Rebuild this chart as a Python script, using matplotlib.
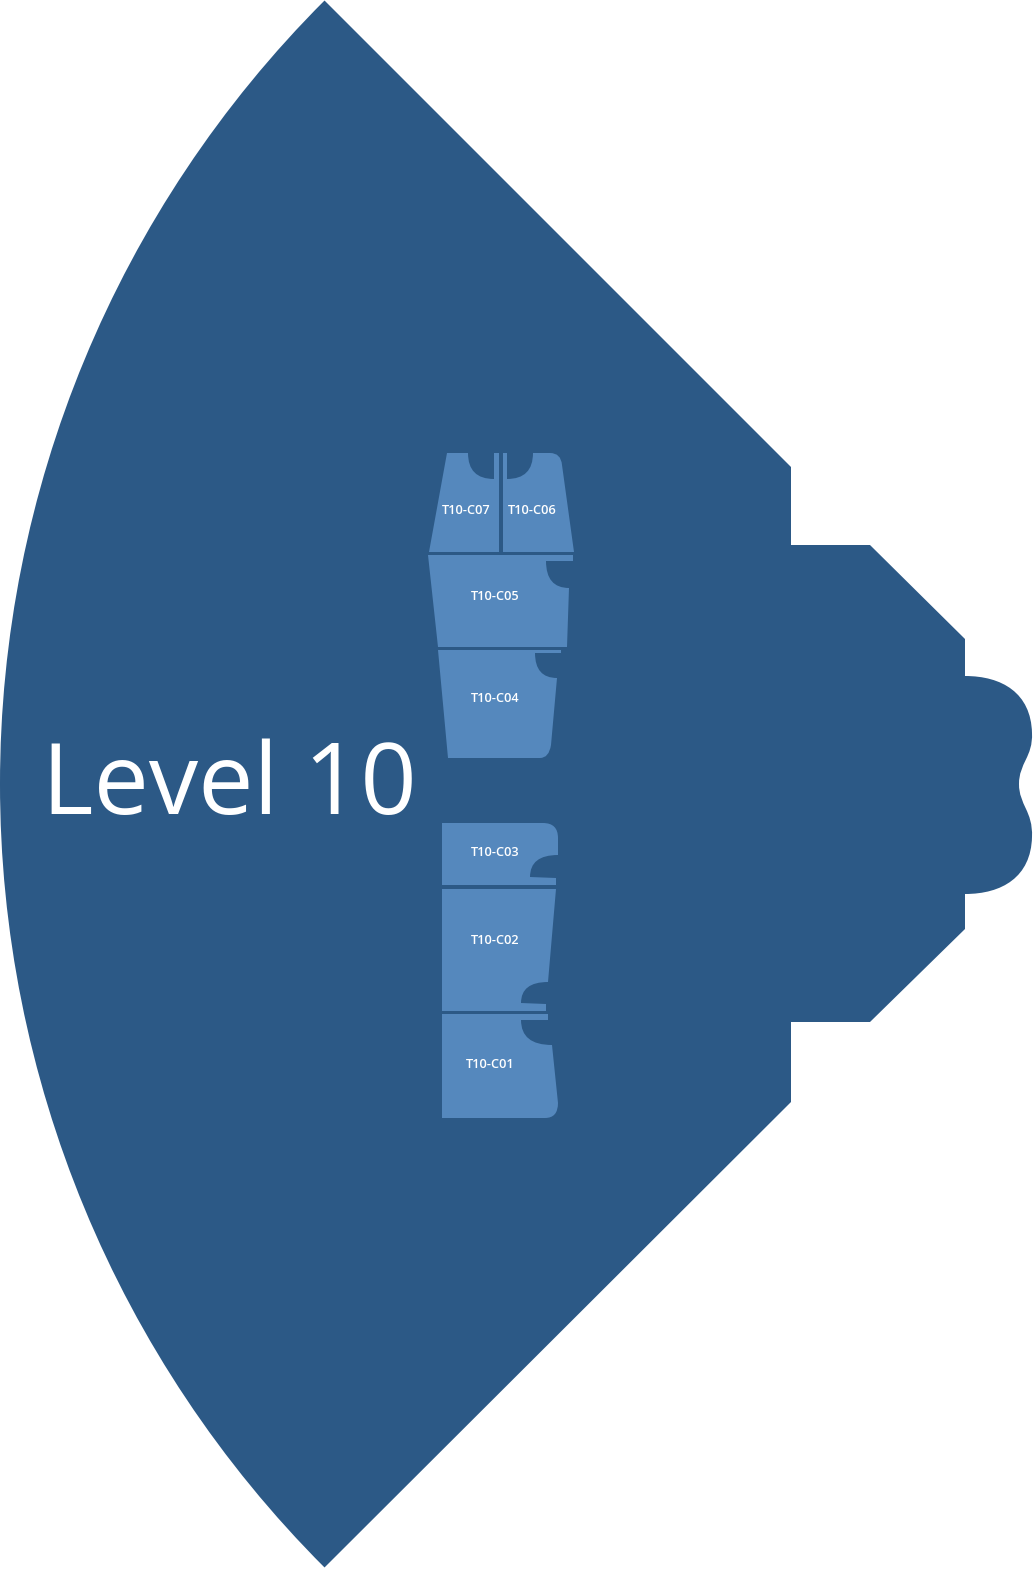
import matplotlib

matplotlib.use("Agg")

import matplotlib.pyplot as plt
from matplotlib.path import Path
from matplotlib.patches import PathPatch
import numpy as np

DARK = "#2c5986"
ROOM = "#5588bd"

# floor outline: sector of a circle, with a stepped wing on the right
SECTOR_CENTER = (1108, 784)
SECTOR_RADIUS = 1108
SECTOR_ANGLES = (135, 225)
WING_POINTS = [(791, 467), (791, 545), (870, 545), (965, 639), (965, 676)]
BULGE_CURVES = [
    [(1002, 676), (1031, 693), (1032, 733)],
    [(1033, 757), (1019, 763), (1019, 784)],
    [(1019, 805), (1033, 811), (1032, 837)],
    [(1031, 877), (1002, 894), (965, 894)],
]
WING_POINTS_LOW = [(965, 929), (870, 1022), (791, 1022), (791, 1102)]

# rooms: ("M"/"L", pt) move/line-to, ("Q", ctrl, pt) quadratic curve
ROOM_NAMES = ["T10-C07", "T10-C06", "T10-C05", "T10-C04", "T10-C03", "T10-C02", "T10-C01"]
ROOM_LABEL_POS = [(466, 511), (532, 511), (495, 596), (495, 699), (495, 853), (495, 940), (490, 1065)]
ROOM_SHAPES = [
    [("M", (447, 453)), ("L", (468, 453)), ("Q", (468, 479), (494, 479)), ("L", (494, 453)),
     ("L", (499, 453)), ("L", (499, 552)), ("L", (429, 552))],
    [("M", (503, 453)), ("L", (507, 453)), ("L", (507, 479)), ("Q", (533, 479), (533, 453)),
     ("L", (550, 453)), ("Q", (561, 453), (562, 465)), ("L", (574, 552)), ("L", (503, 552))],
    [("M", (428, 555)), ("L", (573, 555)), ("L", (573, 561)), ("L", (546, 561)),
     ("Q", (546, 588), (569, 588)), ("L", (567, 647)), ("L", (438, 647))],
    [("M", (438, 650)), ("L", (561, 650)), ("L", (561, 653)), ("L", (535, 653)),
     ("Q", (535, 678), (557, 678)), ("L", (551, 745)), ("Q", (549, 758), (540, 758)),
     ("L", (448, 758))],
    [("M", (442, 823)), ("L", (543, 823)), ("Q", (558, 823), (558, 838)), ("L", (558, 855)),
     ("Q", (530, 855), (530, 877)), ("L", (556, 878)), ("L", (556, 885)), ("L", (442, 885))],
    [("M", (442, 889)), ("L", (556, 889)), ("L", (548, 982)), ("Q", (521, 982), (521, 1003)),
     ("L", (546, 1004)), ("L", (546, 1011)), ("L", (442, 1011))],
    [("M", (442, 1014)), ("L", (548, 1014)), ("L", (548, 1020)), ("L", (521, 1020)),
     ("Q", (521, 1045), (552, 1045)), ("L", (558, 1103)), ("Q", (558, 1118), (545, 1118)),
     ("L", (442, 1118))],
]

LEVEL_LABEL = "Level 10"


def outline_path() -> Path:
    arc = Path.arc(*SECTOR_ANGLES)
    arc_verts = arc.vertices * SECTOR_RADIUS + np.array(SECTOR_CENTER)
    verts = [tuple(v) for v in arc_verts]
    codes = list(arc.codes)
    for pt in WING_POINTS:
        verts.append(pt)
        codes.append(Path.LINETO)
    for curve in BULGE_CURVES:
        verts.extend(curve)
        codes.extend([Path.CURVE4] * 3)
    for pt in WING_POINTS_LOW:
        verts.append(pt)
        codes.append(Path.LINETO)
    verts.append(verts[0])
    codes.append(Path.CLOSEPOLY)
    return Path(verts, codes)


def room_path(shape) -> Path:
    verts, codes = [], []
    for seg in shape:
        kind = seg[0]
        if kind == "M":
            verts.append(seg[1])
            codes.append(Path.MOVETO)
        elif kind == "L":
            verts.append(seg[1])
            codes.append(Path.LINETO)
        else:
            verts.extend([seg[1], seg[2]])
            codes.extend([Path.CURVE3, Path.CURVE3])
    verts.append(verts[0])
    codes.append(Path.CLOSEPOLY)
    return Path(verts, codes)


fig = plt.figure(figsize=(10.34, 15.72), dpi=100)
ax = fig.add_axes([0, 0, 1, 1])
ax.set_xlim(0, 1034)
ax.set_ylim(1572, 0)
ax.axis("off")

ax.add_patch(PathPatch(outline_path(), facecolor=DARK, edgecolor="none"))

for name, pos, shape in zip(ROOM_NAMES, ROOM_LABEL_POS, ROOM_SHAPES):
    ax.add_patch(PathPatch(room_path(shape), facecolor=ROOM, edgecolor="none"))
    ax.text(pos[0], pos[1], name, ha="center", va="center", color="white",
            fontsize=9.2, fontweight="semibold", family="Open Sans")

ax.text(42, 814, LEVEL_LABEL, ha="left", va="baseline", color="white",
        fontsize=71, family="Open Sans")

fig.savefig("out.png", dpi=100, facecolor="white")
